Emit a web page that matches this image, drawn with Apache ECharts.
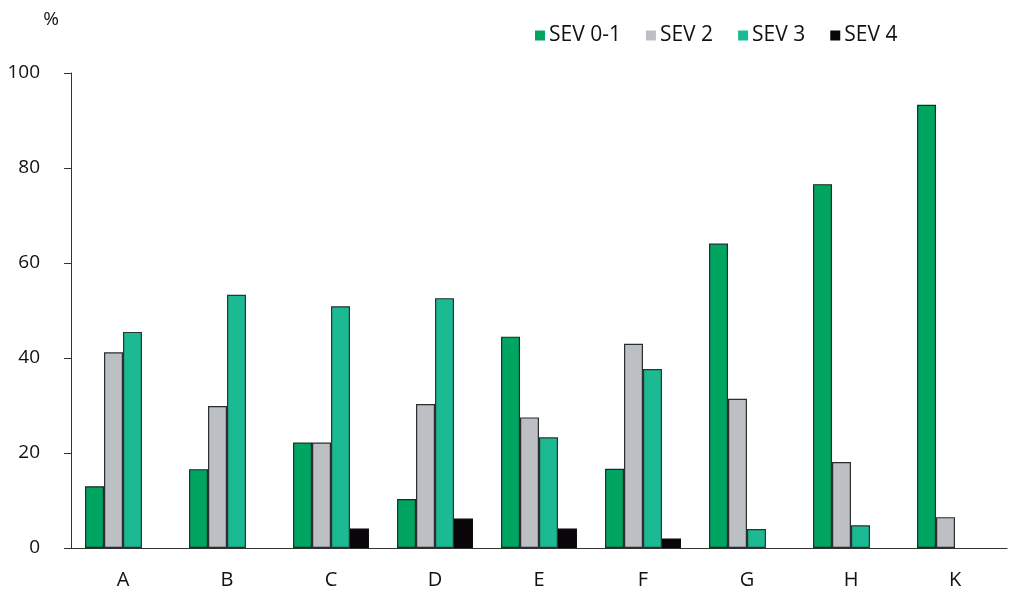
<!DOCTYPE html>
<html>
<head>
<meta charset="utf-8">
<script src="https://cdn.jsdelivr.net/npm/echarts@6/dist/echarts.min.js"></script>
<style>
  html, body { margin: 0; padding: 0; background: #fff; }
  #main { width: 1012px; height: 595px; }
</style>
</head>
<body>
<div id="main"></div>
<script>
// data
var categories = ['A', 'B', 'C', 'D', 'E', 'F', 'G', 'H', 'K'];
var sev01 = [13, 16.6, 22.2, 10.3, 44.5, 16.7, 64.1, 76.6, 93.3];
var sev2  = [41.2, 29.9, 22.2, 30.3, 27.5, 43.0, 31.4, 18.1, 6.5];
var sev3  = [45.5, 53.3, 50.9, 52.6, 23.3, 37.7, 4.0, 4.8, null];
var sev4  = [null, null, 4.1, 6.2, 4.1, 2.0, null, null, null];
var yTicks = [0, 20, 40, 60, 80, 100];

var font = '"Open Sans", "Noto Sans", sans-serif';

function bar(name, data, color, border) {
  return {
    name: name,
    type: 'bar',
    data: data,
    barGap: '0%',
    barCategoryGap: '27%',
    itemStyle: {
      color: color,
      borderColor: border,
      borderWidth: 1.2
    }
  };
}

var chart = echarts.init(document.getElementById('main'));
chart.setOption({
  animation: false,
  textStyle: { fontFamily: font },
  legend: {
    top: 20,
    left: 530,
    itemWidth: 10,
    itemHeight: 10,
    itemGap: 25,
    icon: 'rect',
    itemStyle: { borderWidth: 0 },
    textStyle: { fontSize: 21, color: '#111', fontFamily: font, padding: [0, 0, 0, -1] },
    data: ['SEV 0-1', 'SEV 2', 'SEV 3', 'SEV 4']
  },
  grid: { left: 71, right: 5, top: 73, bottom: 47 },
  xAxis: {
    type: 'category',
    data: categories,
    axisLine: { lineStyle: { color: '#333', width: 1 } },
    axisTick: { length: 7, lineStyle: { color: '#333' } },
    axisLabel: { fontSize: 20, color: '#111', margin: 22, fontFamily: font }
  },
  yAxis: {
    type: 'value',
    name: '%',
    nameLocation: 'end',
    nameGap: 44,
    nameTextStyle: { fontSize: 19, color: '#111', align: 'right', padding: [0, 12, 0, 0], fontFamily: font },
    min: yTicks[0],
    max: yTicks[yTicks.length - 1],
    interval: 20,
    splitLine: { show: false },
    axisLine: { show: true, lineStyle: { color: '#333', width: 1 } },
    axisTick: { show: true, length: 7, lineStyle: { color: '#333' } },
    axisLabel: { fontSize: 19, color: '#111', margin: 31, fontFamily: font }
  },
  series: [
    bar('SEV 0-1', sev01, '#00a562', '#1d2a24'),
    bar('SEV 2', sev2, '#bcc0c4', '#2a2c2e'),
    bar('SEV 3', sev3, '#1cba93', '#2a3431'),
    bar('SEV 4', sev4, '#0a0508', '#0a0508')
  ]
});
</script>
</body>
</html>
